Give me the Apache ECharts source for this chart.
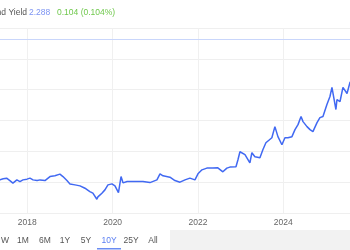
<!DOCTYPE html>
<html><head><meta charset="utf-8">
<script src="https://cdn.jsdelivr.net/npm/echarts@6/dist/echarts.min.js"></script>
<style>html,body{margin:0;padding:0;background:#fff}#c{width:350px;height:250px}</style>
</head><body><div id="c"></div>
<script>
const dates = ["2017-02-16","2017-05-12","2017-06-09","2017-07-08","2017-08-05","2017-08-31","2017-10-04","2017-10-30","2017-11-25","2017-12-29",
"2018-01-24","2018-02-19","2018-03-26","2018-04-20","2018-06-01","2018-07-14","2018-08-25","2018-10-07","2018-11-02","2018-12-06",
"2019-01-01","2019-02-13","2019-03-28","2019-05-09","2019-06-20","2019-07-16","2019-08-19","2019-08-28","2019-10-01","2019-10-27","2019-11-22","2019-12-26",
"2020-01-21","2020-02-07","2020-02-20","2020-03-13","2020-03-30","2020-05-04","2020-05-30","2020-07-28","2020-09-17","2020-11-16",
"2021-01-15","2021-02-10","2021-03-08","2021-05-06","2021-06-18","2021-07-31","2021-09-12","2021-10-24","2021-12-06",
"2022-01-01","2022-02-04","2022-03-18","2022-05-09","2022-06-20","2022-08-02","2022-09-05","2022-10-01","2022-11-22","2022-12-09","2022-12-26",
"2023-01-12","2023-02-07","2023-02-24","2023-03-21","2023-04-07","2023-05-03","2023-05-20","2023-06-15","2023-07-10","2023-08-05","2023-08-22","2023-09-25","2023-10-21","2023-11-16","2023-12-20",
"2024-01-15","2024-02-09","2024-03-15","2024-04-10","2024-05-06","2024-06-01","2024-06-18","2024-07-22","2024-08-17","2024-09-11","2024-10-16","2024-11-10","2024-12-06",
"2025-01-09","2025-02-04","2025-02-21","2025-03-10","2025-03-27","2025-04-05","2025-05-01","2025-05-26","2025-06-30","2025-07-25","2025-09-06"];
const yields = [0.521,0.537,0.554,0.565,0.526,0.484,0.537,0.510,0.537,0.549,
0.565,0.537,0.526,0.537,0.526,0.591,0.603,0.630,0.591,0.526,
0.472,0.456,0.440,0.402,0.347,0.321,0.223,0.261,0.321,0.375,0.456,0.472,
0.440,0.423,0.331,0.591,0.489,0.510,0.510,0.510,0.510,0.493,
0.537,0.635,0.603,0.581,0.526,0.500,0.537,0.565,0.537,
0.635,0.700,0.728,0.728,0.733,0.668,0.728,0.744,0.749,0.863,0.993,
0.993,0.945,0.977,0.814,0.977,0.912,0.912,0.896,1.026,1.140,1.156,1.221,1.401,1.238,1.107,
1.221,1.221,1.238,1.352,1.433,1.564,1.482,1.401,1.352,1.319,1.466,1.547,1.564,
1.759,1.889,2.036,2.068,1.678,1.840,1.808,2.036,1.938,2.117,2.199];
const yearTicks = [2016, 2018, 2020, 2022, 2024, 2026];
const refLevel = 2.82;
const headerName = "Bond Yield";
const headerValue = "2.288";
const headerChange = "0.104 (0.104%)";
const ranges = ["W","1M","6M","1Y","5Y","10Y","25Y","All"];
const activeRange = "10Y";

function toYear(s){
  const d = new Date(s + "T00:00:00Z");
  const y = d.getUTCFullYear();
  const a = Date.UTC(y,0,1), b = Date.UTC(y+1,0,1);
  return y + (d.getTime()-a)/(b-a);
}
const seriesData = dates.map((d,i)=>[toYear(d), yields[i]]);

const font = "'Liberation Sans', Arial, sans-serif";
const fs = 8.5;
const chart = echarts.init(document.getElementById('c'), null, {renderer:'canvas'});
const btnX = [5,23,45,65,86,109,131,153];
function txt(x, y, text, fill, align){
  return {type:'text', x:x, y:y, style:{text:text, fill:fill, fontSize:fs, fontFamily:font, align:align, verticalAlign:'middle'}};
}
const graphics = [
  {type:'rect', shape:{x:170,y:230,width:180,height:20}, style:{fill:'#f2f2f2'}, silent:true},
  txt(27, 13, headerName, '#555', 'right'),
  txt(29, 13, headerValue, '#7d94f2', 'left'),
  txt(57, 13, headerChange, '#6fc84c', 'left')
];
ranges.forEach((r,i)=>{
  graphics.push(txt(btnX[i], 240.5, r, r===activeRange?'#5a7ef2':'#555', 'center'));
});
graphics.push({type:'rect', shape:{x:97,y:248,width:24,height:1.5}, style:{fill:'#6a8cf2'}});

chart.setOption({
  animation:false,
  grid:{left:-58.04, right:-18.66, top:28, bottom:37, containLabel:false, outerBoundsMode:'none'},
  xAxis:{type:'value', min:yearTicks[0], max:yearTicks[yearTicks.length-1], interval:2,
    axisLine:{show:false}, axisTick:{show:false},
    splitLine:{show:true, lineStyle:{color:'#f0f0f0', width:1}},
    axisLabel:{color:'#666', fontSize:fs, fontFamily:font, margin:5, formatter:v=>String(v)}},
  yAxis:{type:'value', min:0, max:3, interval:0.5, position:'right',
    axisLine:{show:false}, axisTick:{show:false}, axisLabel:{show:false},
    splitLine:{show:true, lineStyle:{color:'#efefef', width:1}}},
  series:[{type:'line', data:seriesData, showSymbol:false, symbol:'none',
    lineStyle:{color:'#4169f2', width:1.5}, clip:true,
    markLine:{silent:true, symbol:'none', label:{show:false},
      lineStyle:{color:'#c9d6fb', type:'solid', width:1},
      data:[{yAxis:refLevel}]}}],
  graphic:graphics
});
</script></body></html>
